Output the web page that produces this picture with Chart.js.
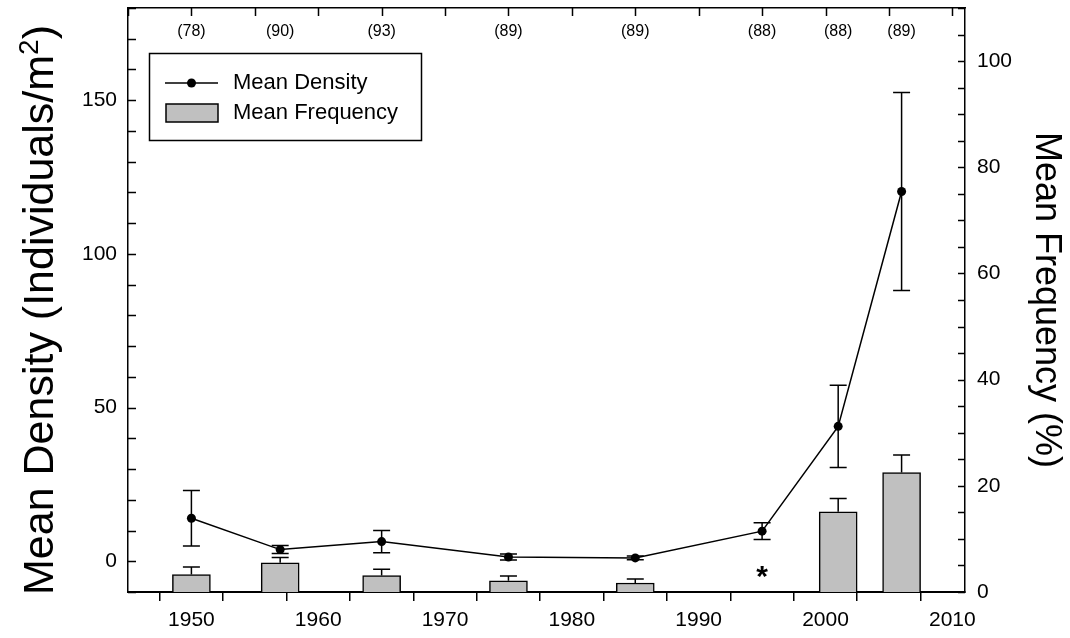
<!DOCTYPE html>
<html><head><meta charset="utf-8">
<script src="https://cdn.jsdelivr.net/npm/chart.js@4.4.0/dist/chart.umd.min.js"></script>
<style>html,body{margin:0;padding:0;background:#fff}#wrap{width:1070px;height:638px;position:relative}</style>
</head><body><div id="wrap"><canvas id="c"></canvas></div>
<script>
// ---- data ----
const years = [1950, 1957, 1965, 1975, 1985, 1995, 2001, 2006];
const sampleSizes = ['(78)', '(90)', '(93)', '(89)', '(89)', '(88)', '(88)', '(89)'];
const densityMean = [14.0, 3.8, 6.4, 1.4, 1.1, 9.8, 43.9, 120.3];
const densityErr = [9.0, 1.3, 3.6, 1.0, 0.6, 2.7, 13.4, 32.2];
const frequencyMean = [3.3, 5.5, 3.1, 2.1, 1.7, null, 15.1, 22.5];
const frequencyErr = [1.4, 1.0, 1.2, 0.9, 0.75, null, 2.5, 3.3];
const significantYears = [1995];
const xTickLabels = ['1950', '1960', '1970', '1980', '1990', '2000', '2010'];
const leftTickLabels = [0, 50, 100, 150];
const rightTickLabels = [0, 20, 40, 60, 80, 100];
const seriesNames = ['Mean Density', 'Mean Frequency'];
const leftTitleParts = ['Mean Density (Individuals/m', '2', ')'];
const rightTitle = 'Mean Frequency (%)';

const FONT = "'Liberation Sans', Arial, Helvetica, sans-serif";

const densityPoints = years.map((x, i) => ({x: x, y: densityMean[i]}));
const freqPoints = years.map((x, i) => ({x: x, y: frequencyMean[i]}));

function zeroPad(s) { s.paddingTop = 0; s.paddingBottom = 0; s.paddingLeft = 0; s.paddingRight = 0; }

// error bars, sample sizes, asterisk, inward ticks, legend, left title
const extras = {
  id: 'extras',
  afterDatasetsDraw(chart) {
    const ctx = chart.ctx;
    const xs = chart.scales.x, ys = chart.scales.y, yr = chart.scales.y1;
    const cap = 8.5;
    ctx.save();
    ctx.strokeStyle = '#000';
    ctx.lineWidth = 1.5;
    years.forEach((yr0, i) => {
      if (frequencyMean[i] == null) return;
      const px = xs.getPixelForValue(yr0);
      const p0 = yr.getPixelForValue(frequencyMean[i]);
      const p1 = yr.getPixelForValue(frequencyMean[i] + frequencyErr[i]);
      ctx.beginPath();
      ctx.moveTo(px, p0); ctx.lineTo(px, p1);
      ctx.moveTo(px - cap, p1); ctx.lineTo(px + cap, p1);
      ctx.stroke();
    });
    years.forEach((yr0, i) => {
      const px = xs.getPixelForValue(yr0);
      const lo = ys.getPixelForValue(densityMean[i] - densityErr[i]);
      const hi = ys.getPixelForValue(densityMean[i] + densityErr[i]);
      ctx.beginPath();
      ctx.moveTo(px, lo); ctx.lineTo(px, hi);
      ctx.moveTo(px - cap, lo); ctx.lineTo(px + cap, lo);
      ctx.moveTo(px - cap, hi); ctx.lineTo(px + cap, hi);
      ctx.stroke();
    });
    ctx.restore();
  },
  afterDraw(chart) {
    const ctx = chart.ctx;
    const ca = chart.chartArea;
    const xs = chart.scales.x, x2 = chart.scales.x2, ys = chart.scales.y, yr = chart.scales.y1;
    ctx.save();
    ctx.strokeStyle = '#000';
    ctx.lineWidth = 1.5;
    ctx.beginPath();
    x2.ticks.forEach(t => {
      const px = Math.round(x2.getPixelForValue(t.value)) + 0.5;
      ctx.moveTo(px, ca.top); ctx.lineTo(px, ca.top + 8);
    });
    ys.ticks.forEach(t => {
      const py = Math.round(ys.getPixelForValue(t.value)) + 0.5;
      ctx.moveTo(ca.left, py); ctx.lineTo(ca.left + 8, py);
    });
    yr.ticks.forEach(t => {
      const py = Math.round(yr.getPixelForValue(t.value)) + 0.5;
      ctx.moveTo(ca.right, py); ctx.lineTo(ca.right - 7, py);
    });
    ctx.stroke();

    // sample sizes along the top
    ctx.fillStyle = '#000';
    ctx.font = '16px ' + FONT;
    ctx.textAlign = 'center';
    ctx.textBaseline = 'middle';
    years.forEach((yr0, i) => {
      ctx.fillText(sampleSizes[i], xs.getPixelForValue(yr0), ca.top + 24);
    });

    // significance asterisk
    ctx.font = 'bold 30px ' + FONT;
    ctx.textBaseline = 'alphabetic';
    significantYears.forEach(yv => {
      ctx.fillText('*', xs.getPixelForValue(yv), yr.getPixelForValue(0) - 6);
    });

    // legend
    const lx = ca.left + 21, ly = ca.top + 45, lw = 272, lh = 87;
    ctx.lineWidth = 1.5;
    ctx.strokeRect(lx + 0.5, ly + 0.5, lw, lh);
    const rowY1 = ly + 30, rowY2 = ly + 60;
    ctx.beginPath();
    ctx.moveTo(lx + 16, rowY1); ctx.lineTo(lx + 69, rowY1);
    ctx.stroke();
    ctx.beginPath();
    ctx.arc(lx + 42.5, rowY1, 4.5, 0, Math.PI * 2);
    ctx.fill();
    ctx.fillStyle = '#c0c0c0';
    ctx.fillRect(lx + 17, rowY2 - 9, 52, 18);
    ctx.strokeRect(lx + 17, rowY2 - 9, 52, 18);
    ctx.fillStyle = '#000';
    ctx.font = '22px ' + FONT;
    ctx.textAlign = 'left';
    ctx.textBaseline = 'middle';
    ctx.fillText(seriesNames[0], lx + 84, rowY1);
    ctx.fillText(seriesNames[1], lx + 84, rowY2);

    // left axis title with a superscript
    const big = '43px ' + FONT, small = '28px ' + FONT;
    ctx.translate(53, (ca.top + ca.bottom) / 2 + 10);
    ctx.rotate(-Math.PI / 2);
    ctx.textBaseline = 'alphabetic';
    ctx.font = big;
    const w1 = ctx.measureText(leftTitleParts[0]).width;
    const w3 = ctx.measureText(leftTitleParts[2]).width;
    ctx.font = small;
    const w2 = ctx.measureText(leftTitleParts[1]).width;
    let x0 = -(w1 + w2 + w3) / 2;
    ctx.font = big;
    ctx.fillText(leftTitleParts[0], x0, 0);
    ctx.font = small;
    ctx.fillText(leftTitleParts[1], x0 + w1, -15);
    ctx.font = big;
    ctx.fillText(leftTitleParts[2], x0 + w1 + w2, 0);
    ctx.restore();
  }
};

new Chart(document.getElementById('c'), {
  data: {
    datasets: [
      {
        type: 'line', label: seriesNames[0], data: densityPoints,
        xAxisID: 'x', yAxisID: 'y',
        borderColor: '#000', borderWidth: 1.5, backgroundColor: '#000',
        pointRadius: 4.5, pointBackgroundColor: '#000', pointBorderWidth: 0,
        tension: 0, order: 0
      },
      {
        type: 'bar', label: seriesNames[1], data: freqPoints,
        xAxisID: 'x', yAxisID: 'y1',
        backgroundColor: '#c0c0c0', borderColor: '#000', borderWidth: 1.5,
        barThickness: 38, order: 1
      }
    ]
  },
  options: {
    responsive: true, maintainAspectRatio: false, animation: false,
    layout: {padding: 0, autoPadding: false},
    plugins: {legend: {display: false}, tooltip: {enabled: false}, title: {display: false}},
    scales: {
      x: {
        type: 'linear', position: 'bottom', min: 1945, max: 2011,
        offset: false,
        afterFit: s => { s.height = 46; zeroPad(s); },
        border: {display: true, color: '#000', width: 2},
        grid: {display: true, drawOnChartArea: false, drawTicks: true, tickLength: 9, color: '#000', lineWidth: 1.5},
        ticks: {
          stepSize: 5, includeBounds: false, autoSkip: false, maxRotation: 0,
          color: '#000', font: {family: FONT, size: 21}, padding: 7,
          callback: v => xTickLabels.includes(String(v)) ? String(v) : ''
        }
      },
      x2: {
        type: 'linear', position: 'top', min: 1945, max: 2011,
        afterFit: s => { s.height = 8; zeroPad(s); },
        border: {display: true, color: '#000', width: 1.5},
        grid: {display: false, drawOnChartArea: false, drawTicks: false},
        ticks: {display: false, stepSize: 5, includeBounds: false}
      },
      y: {
        type: 'linear', position: 'left', min: -10, max: 180,
        afterFit: s => { s.width = 128; zeroPad(s); },
        border: {display: true, color: '#000', width: 1.5},
        grid: {display: false, drawOnChartArea: false, drawTicks: false},
        ticks: {
          stepSize: 10, includeBounds: false, autoSkip: false,
          color: '#000', font: {family: FONT, size: 21}, padding: 11,
          callback: v => leftTickLabels.includes(v) ? String(v) : ''
        },
        title: {display: false}
      },
      y1: {
        type: 'linear', position: 'right', min: 0, max: 110,
        afterFit: s => { s.width = 105; zeroPad(s); },
        border: {display: true, color: '#000', width: 1.5},
        grid: {display: false, drawOnChartArea: false, drawTicks: false},
        ticks: {
          stepSize: 5, includeBounds: false, autoSkip: false,
          color: '#000', font: {family: FONT, size: 21}, padding: 12,
          callback: v => rightTickLabels.includes(v) ? String(v) : ''
        },
        title: {display: true, text: rightTitle, color: '#000', font: {family: FONT, size: 36}, padding: {top: 2, bottom: 0}}
      }
    }
  },
  plugins: [extras]
});
</script>
</body></html>
